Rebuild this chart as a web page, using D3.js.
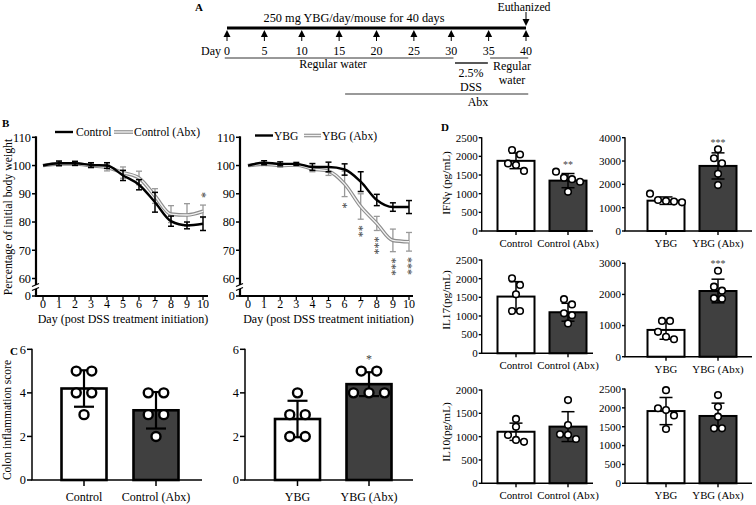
<!DOCTYPE html>
<html><head><meta charset="utf-8">
<script src="https://cdn.jsdelivr.net/npm/d3@7"></script>
<style>
body{margin:0;background:#fff}
svg{display:block}
text{font-family:"Liberation Serif","Times New Roman",serif;fill:#000}
</style>
</head><body>
<svg id="c" width="756" height="505"></svg>
<script>
// ---------------- DATA ----------------
// Panel A timeline
const timelineDays = [0,5,10,15,20,25,30,35,40];
// Panel B body weight
const days = [0,1,2,3,4,5,6,7,8,9,10];
const weightTicks = [0,60,70,80,90,100,110];
const controlMean    = [100,100.8,100.8,100.2,100,96.5,93.2,87,80.3,78.8,79.4];
const controlErr     = [0,0.8,0.7,0.8,1,1.8,1.8,3.5,1.8,1.2,2.4];
const controlAbxMean = [100,100.6,100.6,99.9,99.3,97.5,95.6,89.2,82.8,82.5,83.8];
const controlAbxErr  = [0,0.8,0.7,0.8,1.2,2,2.4,2.6,3,4,2.2];
const controlSig     = [0,0,0,0,0,0,0,0,0,0,1];
const ybgMean        = [100,101,100.6,100.6,99.5,99.5,98.6,94.3,87.8,85.3,85.3];
const ybgErr         = [0,0.7,0.7,0.5,1.2,1.7,2,3.5,2,1.5,2.3];
const ybgAbxMean     = [100,100.5,100,100.2,98.8,98,93.5,85.5,79.5,73.5,73];
const ybgAbxErr      = [0,0.5,0.6,0.5,1,1.5,4.5,4.5,2.5,4,3.3];
const ybgSig         = [0,0,0,0,0,0,1,2,3,3,3];
// Panel C colon inflammation score
const scoreTicks = [0,2,4,6];
const scoreGroupsLeft  = ["Control","Control (Abx)"];
const scorePointsLeft  = [[5,5,4,4,3],[4,4,3,3,2]];
const scoreSigLeft     = ["",""];
const scoreGroupsRight = ["YBG","YBG (Abx)"];
const scorePointsRight = [[4,3,3,2,2],[5,5,4,4,4]];
const scoreSigRight    = ["","*"];
// Panel D cytokines
const ctrlGroups = ["Control","Control (Abx)"];
const ybgGroups  = ["YBG","YBG (Abx)"];
const ifnTicksL = [0,500,1000,1500,2000,2500];
const ifnMeanL = [1880,1350], ifnSdL = [210,190];
const ifnPtsL  = [[2170,2050,1810,1770,1610],[1590,1430,1390,1320,1050]];
const ifnSigL  = ["","**"];
const ifnTicksR = [0,1000,2000,3000,4000];
const ifnMeanR = [1300,2790], ifnSdR = [160,560];
const ifnPtsR  = [[1600,1330,1290,1260,1230],[3500,3120,2900,2450,1970]];
const ifnSigR  = ["","***"];
const il17TicksL = [0,500,1000,1500,2000,2500];
const il17MeanL = [1520,1100], il17SdL = [400,240];
const il17PtsL  = [[2010,1830,1580,1134,1134],[1450,1310,1070,1020,800]];
const il17SigL  = ["",""];
const il17TicksR = [0,1000,2000,3000];
const il17MeanR = [860,2110], il17SdR = [300,380];
const il17PtsR  = [[1150,1150,800,640,560],[2760,2250,2120,1880,1860]];
const il17SigR  = ["","***"];
const il10TicksL = [0,500,1000,1500,2000];
const il10MeanL = [1105,1215], il10SdL = [185,320];
const il10PtsL  = [[1380,1210,1035,930,890],[1785,1250,1050,1040,950]];
const il10SigL  = ["",""];
const il10TicksR = [0,500,1000,1500,2000,2500];
const il10MeanR = [1915,1785], il10SdR = [360,340];
const il10PtsR  = [[2470,1990,1940,1800,1440],[2340,2030,1765,1457,1457]];
const il10SigR  = ["",""];

// ---------------- DRAW ----------------
const svg = d3.select("#c");
const BLACK = "#000", DARK = "#404040", GREY = "#8c8c8c", STAR = "#444";

// ===== Panel A =====
(function(){
  const g = svg.append("g");
  const fs = 12;
  const x = d3.scaleLinear().domain([0,40]).range([227,526]);
  g.append("text").attr("x",195).attr("y",11).attr("font-size",11).attr("font-weight","bold").text("A");
  g.append("text").attr("x",354).attr("y",22).attr("text-anchor","middle").attr("font-size",12.3).text("250 mg YBG/day/mouse for 40 days");
  g.append("line").attr("x1",x(0)).attr("x2",x(40)).attr("y1",28).attr("y2",28).attr("stroke",BLACK).attr("stroke-width",3);
  const ar = g.selectAll(".ar").data(timelineDays).join("g").attr("transform",d=>`translate(${x(d)},0)`);
  ar.append("path").attr("d","M-3.5,37L0,30L3.5,37Z").attr("fill",BLACK);
  ar.append("line").attr("x1",0).attr("x2",0).attr("y1",36).attr("y2",41).attr("stroke",BLACK).attr("stroke-width",1);
  ar.append("text").attr("y",54.5).attr("text-anchor","middle").attr("font-size",fs).text(d=>d);
  g.append("text").attr("x",221).attr("y",54.5).attr("text-anchor","end").attr("font-size",fs).text("Day");
  // euthanized arrow
  g.append("line").attr("x1",x(40)).attr("x2",x(40)).attr("y1",12).attr("y2",20).attr("stroke",BLACK).attr("stroke-width",1);
  g.append("path").attr("d",`M${x(40)-3.5},19L${x(40)},26L${x(40)+3.5},19Z`).attr("fill",BLACK);
  g.append("text").attr("x",524).attr("y",10.5).attr("text-anchor","middle").attr("font-size",11.8).text("Euthanized");
  // treatment bars
  g.append("line").attr("x1",x(-0.3)).attr("x2",x(30.3)).attr("y1",58).attr("y2",58).attr("stroke","#333").attr("stroke-width",1);
  g.append("text").attr("x",333).attr("y",68).attr("text-anchor","middle").attr("font-size",fs).text("Regular water");
  g.append("line").attr("x1",x(30.5)).attr("x2",x(34.9)).attr("y1",63).attr("y2",63).attr("stroke","#222").attr("stroke-width",1.5);
  g.append("text").attr("x",471).attr("y",76.5).attr("text-anchor","middle").attr("font-size",fs).text("2.5%");
  g.append("text").attr("x",471).attr("y",91).attr("text-anchor","middle").attr("font-size",fs).text("DSS");
  g.append("line").attr("x1",x(35.2)).attr("x2",x(40.3)).attr("y1",58).attr("y2",58).attr("stroke","#333").attr("stroke-width",1);
  g.append("text").attr("x",512).attr("y",69.5).attr("text-anchor","middle").attr("font-size",fs).text("Regular");
  g.append("text").attr("x",512).attr("y",84).attr("text-anchor","middle").attr("font-size",fs).text("water");
  g.append("line").attr("x1",x(15.8)).attr("x2",x(40.3)).attr("y1",94).attr("y2",94).attr("stroke","#999").attr("stroke-width",2);
  g.append("text").attr("x",478).attr("y",106).attr("text-anchor","middle").attr("font-size",fs).text("Abx");
})();

// ===== Panel B =====
function drawWeight(o){
  const g = svg.append("g");
  const fs = 12;
  const x = d3.scaleLinear().domain([0,10]).range([o.x0,o.x1]);
  const y = d3.scaleLinear().domain([60,110]).range([278.5,137.3]);
  const base = 296;
  const ty = t => t===0 ? base : y(t);
  g.append("line").attr("x1",o.ax).attr("x2",o.ax).attr("y1",y(110)-1).attr("y2",base).attr("stroke",BLACK).attr("stroke-width",2.2);
  g.append("line").attr("x1",o.ax-1).attr("x2",o.axEnd).attr("y1",base).attr("y2",base).attr("stroke",BLACK).attr("stroke-width",2.2);
  // axis break
  g.append("rect").attr("x",o.ax-3).attr("y",285).attr("width",6).attr("height",4).attr("fill","#fff");
  [285,289].forEach(yy=>g.append("line").attr("x1",o.ax-4).attr("x2",o.ax+3).attr("y1",yy+1.5).attr("y2",yy-1.5).attr("stroke",BLACK).attr("stroke-width",1.3));
  const yt = g.selectAll(".yt").data(weightTicks).join("g").attr("transform",d=>`translate(0,${ty(d)})`);
  yt.append("line").attr("x1",o.ax-4).attr("x2",o.ax).attr("stroke",BLACK).attr("stroke-width",1.5);
  yt.append("text").attr("x",o.ax-5).attr("dy","0.35em").attr("text-anchor","end").attr("font-size",12.3).text(d=>d);
  const xt = g.selectAll(".xt").data(days).join("g").attr("transform",d=>`translate(${x(d)},${base})`);
  xt.append("line").attr("y1",0).attr("y2",4).attr("stroke",BLACK).attr("stroke-width",1.3);
  xt.append("text").attr("y",12).attr("text-anchor","middle").attr("font-size",fs).text(d=>d);
  g.append("text").attr("x",(o.x0+o.x1)/2).attr("y",322.5).attr("text-anchor","middle").attr("font-size",fs).text("Day (post DSS treatment initiation)");

  const line = d3.line().x((d,i)=>x(days[i])).y(d=>y(d)).curve(d3.curveMonotoneX);
  const drawErr = (mean, err, col, w) => {
    const eb = g.append("g").attr("stroke",col).attr("stroke-width",w);
    days.forEach((d,i)=>{
      if(!err[i]) return;
      const xx = x(d), y1 = y(mean[i]-err[i]), y2 = y(mean[i]+err[i]);
      eb.append("line").attr("x1",xx).attr("x2",xx).attr("y1",y1).attr("y2",y2);
      eb.append("line").attr("x1",xx-3).attr("x2",xx+3).attr("y1",y1).attr("y2",y1);
      eb.append("line").attr("x1",xx-3).attr("x2",xx+3).attr("y1",y2).attr("y2",y2);
    });
  };
  drawErr(o.abxMean,o.abxErr,"#999",1.3);
  g.append("path").attr("d",line(o.abxMean)).attr("fill","none").attr("stroke",GREY).attr("stroke-width",3.6);
  g.append("path").attr("d",line(o.abxMean)).attr("fill","none").attr("stroke","#f2f2f2").attr("stroke-width",1.4);
  drawErr(o.mean,o.err,BLACK,1.5);
  g.append("path").attr("d",line(o.mean)).attr("fill","none").attr("stroke",BLACK).attr("stroke-width",2.4);
  // significance stars: vertical stack (rotated text)
  const sfs = 12;
  days.forEach((d,i)=>{
    const n = o.sig[i];
    if(!n) return;
    let y0;
    if(o.sigAbove) y0 = y(o.abxMean[i]+o.abxErr[i]) - 10 - (n-1)*sfs*0.5 - sfs*0.25;
    else y0 = y(o.abxMean[i]-o.abxErr[i]) + 9 - sfs*0.25;
    g.append("text").attr("transform",`translate(${x(d)-sfs*0.45},${y0}) rotate(90)`)
      .attr("font-size",sfs).style("fill",STAR).text("*".repeat(n));
  });
  // legend
  const L = o.legend;
  g.append("line").attr("x1",L.x1).attr("x2",L.x1+18).attr("y1",L.y).attr("y2",L.y).attr("stroke",BLACK).attr("stroke-width",2.4);
  g.append("text").attr("x",L.t1).attr("y",L.y).attr("dy","0.35em").attr("font-size",11.6).text(o.names[0]);
  g.append("line").attr("x1",L.x2).attr("x2",L.x2+L.w2).attr("y1",L.y).attr("y2",L.y).attr("stroke",GREY).attr("stroke-width",3.6);
  g.append("line").attr("x1",L.x2).attr("x2",L.x2+L.w2).attr("y1",L.y).attr("y2",L.y).attr("stroke","#f2f2f2").attr("stroke-width",1.4);
  g.append("text").attr("x",L.t2).attr("y",L.y).attr("dy","0.35em").attr("font-size",11.6).text(o.names[1]);
}
svg.append("text").attr("x",2).attr("y",127).attr("font-size",11).attr("font-weight","bold").text("B");
svg.append("text").attr("transform","translate(8,217) rotate(-90)").attr("text-anchor","middle").attr("dy","0.35em").attr("font-size",11.8).text("Percentage of initial body weight");
drawWeight({x0:43,x1:203,ax:36,axEnd:208,mean:controlMean,err:controlErr,abxMean:controlAbxMean,abxErr:controlAbxErr,
  sig:controlSig,sigAbove:true,names:["Control","Control (Abx)"],legend:{x1:55,t1:76,x2:114,w2:19,t2:134,y:132}});
drawWeight({x0:248,x1:409,ax:240,axEnd:413,mean:ybgMean,err:ybgErr,abxMean:ybgAbxMean,abxErr:ybgAbxErr,
  sig:ybgSig,sigAbove:false,names:["YBG","YBG (Abx)"],legend:{x1:255,t1:274,x2:304,w2:17,t2:322,y:135.5}});

// ===== Bar chart helper (Panels C & D) =====
function spread(vals, y, r, s){
  // cluster points whose pixel positions overlap, then spread each cluster symmetrically
  const idx = vals.map((v,i)=>i).sort((a,b)=>vals[b]-vals[a]);
  const off = new Array(vals.length).fill(0);
  let cluster = [];
  const flush = () => { cluster.forEach((j,k)=>{ off[j] = (k-(cluster.length-1)/2)*s; }); cluster = []; };
  idx.forEach(j=>{
    if(cluster.length && Math.abs(y(vals[j]) - y(vals[cluster[cluster.length-1]])) > 2*r+0.5) flush();
    cluster.push(j);
  });
  flush();
  return off;
}
function drawBars(o){
  const g = svg.append("g");
  const x = d3.scalePoint().domain(o.groups).range(o.centers);
  const y = d3.scaleLinear().domain([0,d3.max(o.ticks)]).range([o.yBottom,o.yTop]);
  o.groups.forEach((grp,i)=>{
    g.append("rect").attr("x",x(grp)-o.barW/2).attr("y",y(o.means[i])).attr("width",o.barW).attr("height",y(0)-y(o.means[i]))
      .attr("fill",i===0?"#fff":DARK).attr("stroke",BLACK).attr("stroke-width",o.barStroke);
  });
  o.groups.forEach((grp,i)=>{
    const cx = x(grp), y1 = y(o.means[i]-o.sds[i]), y2 = y(o.means[i]+o.sds[i]);
    const eb = g.append("g").attr("stroke",BLACK).attr("stroke-width",o.errW);
    eb.append("line").attr("x1",cx).attr("x2",cx).attr("y1",y1).attr("y2",y2);
    eb.append("line").attr("x1",cx-o.capW/2).attr("x2",cx+o.capW/2).attr("y1",y1).attr("y2",y1);
    eb.append("line").attr("x1",cx-o.capW/2).attr("x2",cx+o.capW/2).attr("y1",y2).attr("y2",y2);
  });
  o.groups.forEach((grp,i)=>{
    const off = spread(o.points[i], y, o.r, o.spread);
    g.selectAll(null).data(o.points[i]).join("circle")
      .attr("cx",(d,k)=>x(grp)+off[k]).attr("cy",d=>y(d)).attr("r",o.r)
      .attr("fill","#fff").attr("stroke",BLACK).attr("stroke-width",o.ptStroke);
    if(o.sig[i]){
      const top = Math.min(y(d3.max(o.points[i]))-o.r, y(o.means[i]+o.sds[i]));
      g.append("text").attr("x",x(grp)).attr("y",top-o.sigGap+o.sigSize*0.5).attr("text-anchor","middle")
        .attr("font-size",o.sigSize).style("fill",STAR).text(o.sig[i]);
    }
  });
  g.append("line").attr("x1",o.ax).attr("x2",o.ax).attr("y1",o.yTop-0.5).attr("y2",o.yBottom).attr("stroke",BLACK).attr("stroke-width",o.axW);
  g.append("line").attr("x1",o.ax-o.axW/2).attr("x2",o.axEnd).attr("y1",o.yBottom).attr("y2",o.yBottom).attr("stroke",BLACK).attr("stroke-width",o.axW);
  const yt = g.selectAll(".yt").data(o.ticks).join("g").attr("transform",d=>`translate(0,${y(d)})`);
  yt.append("line").attr("x1",o.ax-o.tick).attr("x2",o.ax).attr("stroke",BLACK).attr("stroke-width",o.axW);
  yt.append("text").attr("x",o.ax-o.tick-1).attr("dy","0.35em").attr("text-anchor","end").attr("font-size",o.fs).text(d=>d);
  const xt = g.selectAll(".xt").data(o.groups).join("g").attr("transform",d=>`translate(${x(d)},${o.yBottom})`);
  xt.append("line").attr("y1",0).attr("y2",o.tick+1).attr("stroke",BLACK).attr("stroke-width",o.axW);
  xt.append("text").attr("y",o.labelDy).attr("text-anchor","middle").attr("font-size",o.lfs).text(d=>d);
  if(o.title){
    g.append("text").attr("transform",`translate(${o.titleX},${o.titleY}) rotate(-90)`).attr("text-anchor","middle")
      .attr("dy","0.35em").attr("font-size",o.tfs).text(o.title);
  }
}

// ===== Panel C =====
svg.append("text").attr("x",10).attr("y",355).attr("font-size",11).attr("font-weight","bold").text("C");
const cBase = {barW:45,yTop:349.3,yBottom:480,ticks:scoreTicks,r:4.5,spread:15.5,ptStroke:2.4,barStroke:2.6,errW:2.2,capW:20,
  axW:1.5,tick:5,fs:12.3,lfs:12,labelDy:21,sigGap:10,sigSize:12,tfs:11.5};
drawBars(Object.assign({},cBase,{groups:scoreGroupsLeft,centers:[84,156],ax:32,axEnd:202,
  means:scorePointsLeft.map(d=>d3.mean(d)),sds:scorePointsLeft.map(d=>d3.deviation(d)),points:scorePointsLeft,sig:scoreSigLeft,
  title:"Colon inflammation score",titleX:7,titleY:420}));
drawBars(Object.assign({},cBase,{groups:scoreGroupsRight,centers:[297.5,369],ax:245,axEnd:413,
  means:scorePointsRight.map(d=>d3.mean(d)),sds:scorePointsRight.map(d=>d3.deviation(d)),points:scorePointsRight,sig:scoreSigRight}));

// ===== Panel D =====
svg.append("text").attr("x",441).attr("y",131).attr("font-size",11).attr("font-weight","bold").text("D");
const dBase = {barW:37,r:3.3,spread:8,ptStroke:1.6,barStroke:2,errW:1.5,capW:13,axW:1.4,tick:3,fs:11,lfs:10.8,labelDy:16,
  sigGap:5,sigSize:10,tfs:11.3};
const L = {centers:[516,568],ax:481.7,axEnd:593,groups:ctrlGroups,titleX:446};
const R = {centers:[666,718],ax:625,axEnd:752,groups:ybgGroups};
drawBars(Object.assign({},dBase,L,{yTop:137.7,yBottom:231,ticks:ifnTicksL,means:ifnMeanL,sds:ifnSdL,points:ifnPtsL,sig:ifnSigL,title:"IFNγ (pg/mL)",titleY:183}));
drawBars(Object.assign({},dBase,R,{yTop:137.7,yBottom:231,ticks:ifnTicksR,means:ifnMeanR,sds:ifnSdR,points:ifnPtsR,sig:ifnSigR}));
drawBars(Object.assign({},dBase,L,{yTop:260,yBottom:353.3,ticks:il17TicksL,means:il17MeanL,sds:il17SdL,points:il17PtsL,sig:il17SigL,title:"IL17(pg/mL)",titleY:300}));
drawBars(Object.assign({},dBase,R,{yTop:263.3,yBottom:356.7,ticks:il17TicksR,means:il17MeanR,sds:il17SdR,points:il17PtsR,sig:il17SigR}));
drawBars(Object.assign({},dBase,L,{yTop:390,yBottom:483.3,ticks:il10TicksL,means:il10MeanL,sds:il10SdL,points:il10PtsL,sig:il10SigL,title:"IL10(pg/mL)",titleY:432}));
drawBars(Object.assign({},dBase,R,{yTop:389,yBottom:483.3,ticks:il10TicksR,means:il10MeanR,sds:il10SdR,points:il10PtsR,sig:il10SigR}));
</script>
</body></html>
